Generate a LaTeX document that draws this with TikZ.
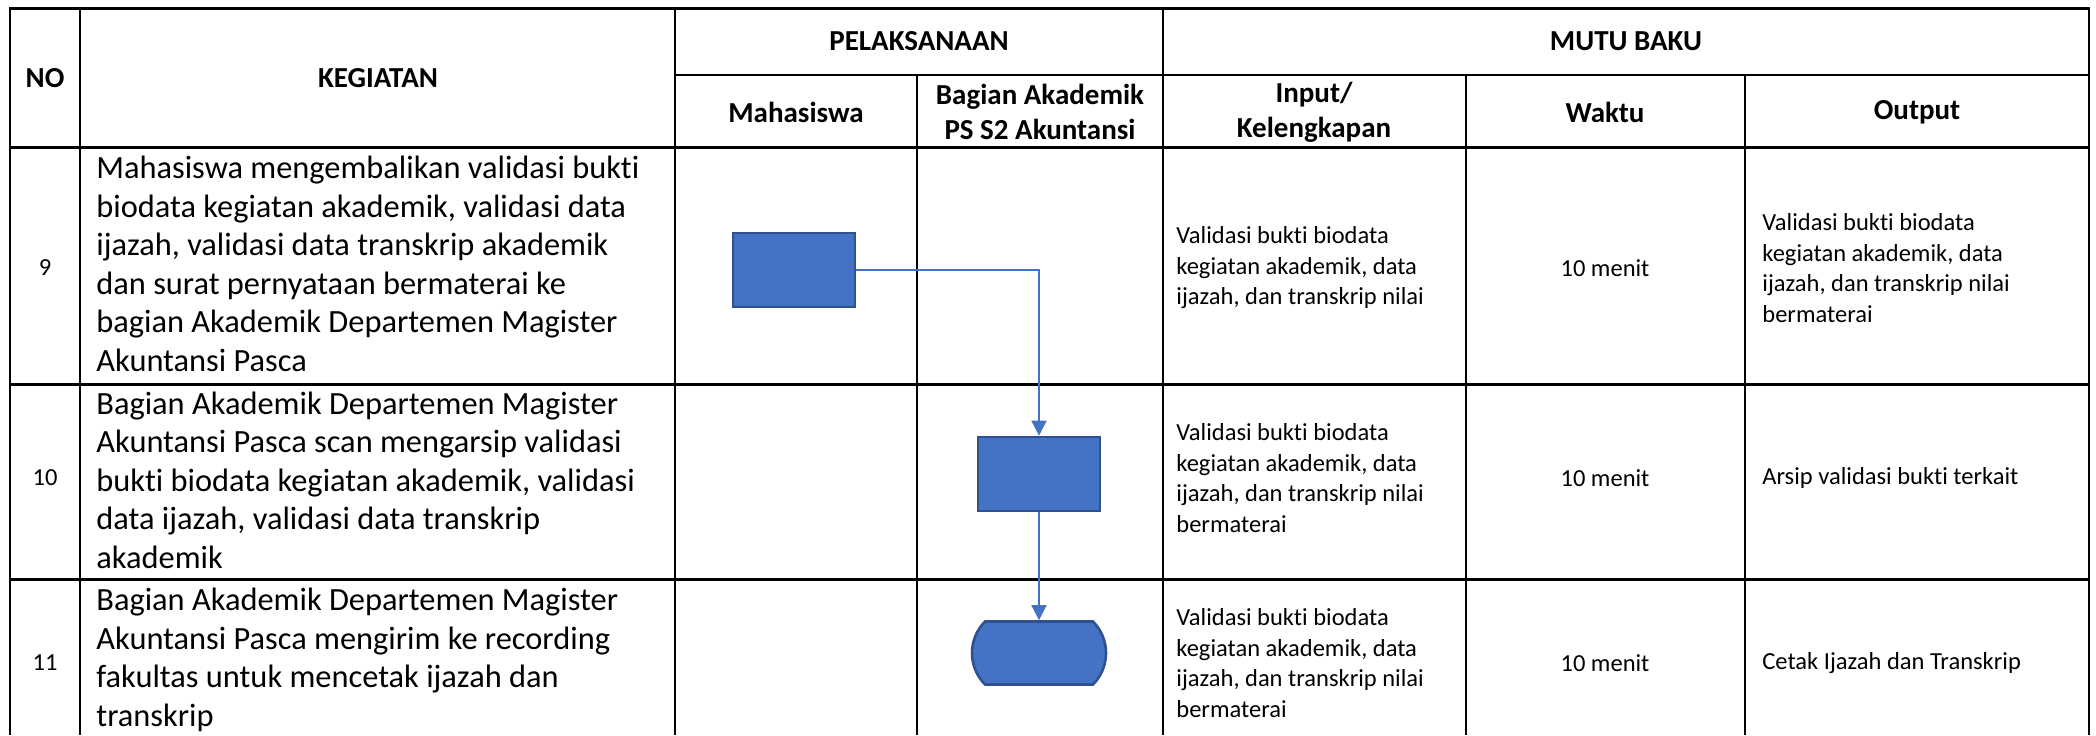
\documentclass[tikz,border=0pt]{standalone}
\usepackage{fontspec}
\setmainfont{Carlito}[Ligatures=NoCommon]
\usetikzlibrary{arrows.meta,shapes.misc}
\definecolor{shapefill}{HTML}{4472C4}
\definecolor{shapeline}{HTML}{2F528F}

\begin{document}
\begin{tikzpicture}[x=0.5pt,y=-0.5pt,
	head/.style={align=center,font=\fontsize{14.5pt}{17.5pt}\selectfont\bfseries},
	keg/.style={anchor=west,align=left,inner sep=0pt,font=\fontsize{16.2pt}{19.25pt}\selectfont},
	cell/.style={anchor=west,align=left,inner sep=0pt,font=\fontsize{12.25pt}{15.25pt}\selectfont},
	num/.style={inner sep=0pt,font=\fontsize{12.25pt}{15.25pt}\selectfont},
	proc/.style={draw=shapeline,fill=shapefill,line width=1.3pt,minimum width=61pt,minimum height=37pt,inner sep=0pt},
	term/.style={proc,rounded rectangle,rounded rectangle arc length=90,minimum width=67pt,minimum height=31.5pt},
	flow/.style={draw=shapefill,line width=0.8pt,-{Triangle[length=7.5pt,width=7.5pt]}}]
	\useasboundingbox (0,0) rectangle (2096,735);

	% table rules
	\draw[line width=1.5pt] (9,8) -- (2090,8)
		(9,147) -- (2090,147)
		(9,384) -- (2090,384)
		(9,579) -- (2090,579);
	\draw[line width=1pt] (675,75) -- (2090,75);
	\draw[line width=1pt] (10,8) -- (10,735)
		(80,8) -- (80,735)
		(675,8) -- (675,735)
		(1163,8) -- (1163,735)
		(2089,8) -- (2089,735)
		(917,75) -- (917,735)
		(1466,75) -- (1466,735)
		(1745,75) -- (1745,735);

	% header
	\node[head,name=hno] at (45,78) {NO};
	\node[head,name=hkeg] at (378,78) {KEGIATAN};
	\node[head,name=hpel] at (919,41) {PELAKSANAAN};
	\node[head,name=hmutu] at (1626,41) {MUTU BAKU};
	\node[head,name=hmhs] at (796,112) {Mahasiswa};
	\node[head,name=hbag] at (1040,112) {Bagian Akademik\\PS S2 Akuntansi};
	\node[head,name=hinp] at (1314,112) {Input/\\Kelengkapan};
	\node[head,name=hwkt] at (1605,112) {Waktu};
	\node[head,name=hout] at (1917,112) {Output};

	% row 9
	\node[num,name=n9] at (45,268) {9};
	\node[keg,name=k9] at (96,264) {Mahasiswa mengembalikan validasi bukti\\biodata kegiatan akademik, validasi data\\ijazah, validasi data transkrip akademik\\dan surat pernyataan bermaterai ke\\bagian Akademik Departemen Magister\\Akuntansi Pasca};
	\node[cell,name=i9] at (1176,268) {Validasi bukti biodata\\kegiatan akademik, data\\ijazah, dan transkrip nilai};
	\node[num,name=w9] at (1605,268) {10 menit};
	\node[cell,name=o9] at (1762,268) {Validasi bukti biodata\\kegiatan akademik, data\\ijazah, dan transkrip nilai\\bermaterai};

	% row 10
	\node[num,name=n10] at (45,478) {10};
	\node[keg,name=k10] at (96,480) {Bagian Akademik Departemen Magister\\Akuntansi Pasca scan mengarsip validasi\\bukti biodata kegiatan akademik, validasi\\data ijazah, validasi data transkrip\\akademik};
	\node[cell,name=i10] at (1176,478) {Validasi bukti biodata\\kegiatan akademik, data\\ijazah, dan transkrip nilai\\bermaterai};
	\node[num,name=w10] at (1605,478) {10 menit};
	\node[cell,name=o10] at (1762,478) {Arsip validasi bukti terkait};

	% row 11
	\node[num,name=n11] at (45,663) {11};
	\node[keg,name=k11] at (96,660) {Bagian Akademik Departemen Magister\\Akuntansi Pasca mengirim ke recording\\fakultas untuk mencetak ijazah dan\\transkrip};
	\node[cell,name=i11] at (1176,663) {Validasi bukti biodata\\kegiatan akademik, data\\ijazah, dan transkrip nilai\\bermaterai};
	\node[num,name=w11] at (1605,663) {10 menit};
	\node[cell,name=o11] at (1762,663) {Cetak Ijazah dan Transkrip};

	% flow shapes
	\node[proc,name=p9] at (794,270) {};
	\node[proc,name=p10] at (1039,474) {};
	\node[term,name=p11] at (1039,653) {};

	\draw[flow] (p9.east) -| (p10.north);
	\draw[flow] (p10.south) -- (p11.north);
\end{tikzpicture}
\end{document}
